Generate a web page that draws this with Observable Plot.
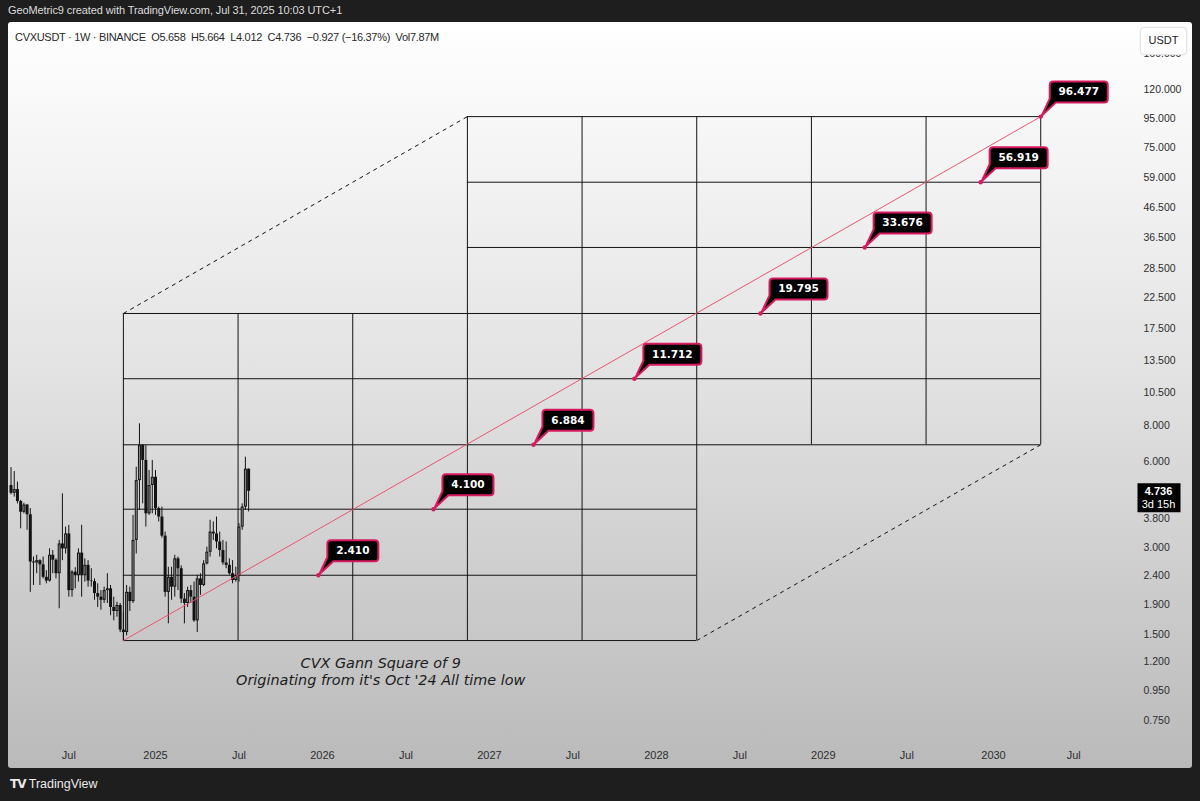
<!DOCTYPE html>
<html><head><meta charset="utf-8">
<script src="https://cdn.jsdelivr.net/npm/d3@7"></script>
<script src="https://cdn.jsdelivr.net/npm/@observablehq/plot@0.6"></script>
<style>
html,body{margin:0;padding:0;background:#1e1e1e;width:1200px;height:801px;overflow:hidden;font-family:"Liberation Sans",Arial,sans-serif;}
#hdr{position:absolute;left:8px;top:4px;color:#dcdcdc;font-size:11px;letter-spacing:-0.1px;white-space:pre;}
#panel{position:absolute;left:8px;top:22px;width:1184px;height:746px;background:linear-gradient(180deg,#ffffff 0%,#e4e4e4 45%,#bababa 100%);border-radius:3px;overflow:hidden;}
#chart{position:absolute;left:0;top:0;}
#legend{position:absolute;left:7px;top:9px;color:#2a2a2a;font-size:11px;letter-spacing:-0.3px;white-space:pre;}
#usdt{position:absolute;left:1132px;top:5px;width:45px;height:26px;line-height:24px;text-align:center;background:#fff;border:1px solid #e3e3e3;border-radius:4px;box-shadow:0 0 2px rgba(0,0,0,0.08);font-size:11px;color:#222;}
#footer{position:absolute;left:10px;top:777px;color:#eaeaea;font-size:12.5px;white-space:pre;}
#footer b{font-family:"DejaVu Sans";font-weight:900;font-size:12px;letter-spacing:-1px;}
</style>
</head><body>
<div id="hdr">GeoMetric9 created with TradingView.com, Jul 31, 2025 10:03 UTC+1</div>
<div id="panel">
  <div id="chart"></div>
  <div id="legend">CVXUSDT · 1W · BINANCE  O5.658  H5.664  L4.012  C4.736  −0.927 (−16.37%)  Vol7.87M</div>
  <div id="usdt">USDT</div>
</div>
<div id="footer"><b>TV</b> TradingView</div>
<script>
// ---- weekly candles ----
const candleDates = ["2024-02-26","2024-03-04","2024-03-11","2024-03-18","2024-03-25","2024-04-01","2024-04-08","2024-04-15","2024-04-22","2024-04-29",
"2024-05-06","2024-05-13","2024-05-20","2024-05-27","2024-06-03","2024-06-10","2024-06-17","2024-06-24","2024-07-01","2024-07-08",
"2024-07-15","2024-07-22","2024-07-29","2024-08-05","2024-08-12","2024-08-19","2024-08-26","2024-09-02","2024-09-09","2024-09-16",
"2024-09-23","2024-09-30","2024-10-07","2024-10-14","2024-10-21","2024-10-28","2024-11-04","2024-11-11","2024-11-18","2024-11-25",
"2024-12-02","2024-12-09","2024-12-16","2024-12-23","2024-12-30","2025-01-06","2025-01-13","2025-01-20","2025-01-27","2025-02-03",
"2025-02-10","2025-02-17","2025-02-24","2025-03-03","2025-03-10","2025-03-17","2025-03-24","2025-03-31","2025-04-07","2025-04-14",
"2025-04-21","2025-04-28","2025-05-05","2025-05-12","2025-05-19","2025-05-26","2025-06-02","2025-06-09","2025-06-16","2025-06-23",
"2025-06-30","2025-07-07","2025-07-14","2025-07-21","2025-07-28"];
const opens  = [4.96,4.66,4.80,4.36,4.00,4.24,3.92,2.68,2.66,2.71, 2.62,2.37,2.30,2.83,2.72,2.44,3.10,2.98,3.36,2.13,
                2.47,2.40,2.88,2.40,2.61,2.30,2.29,2.08,2.02,1.97, 2.13,2.16,1.86,1.80,1.89,1.55,1.52,2.10,1.95,3.19,
                5.16,6.84,6.07,3.95,4.96,5.30,4.12,3.85,3.30,2.10, 2.37,2.19,2.75,2.54,1.99,1.92,2.13,2.02,1.67,2.34,
                2.22,2.64,2.90,3.41,3.36,3.15,2.94,2.66,2.61,2.44, 2.31,2.40,3.55,4.17,5.658];
const highs  = [5.73,5.55,5.10,4.40,4.30,4.26,4.12,2.79,2.83,2.73, 2.79,2.50,2.98,2.94,2.75,3.19,4.64,3.55,3.60,2.50,
                2.56,2.98,3.60,2.75,2.71,2.54,2.34,2.25,2.13,2.19, 2.44,2.22,2.02,1.94,1.92,1.78,2.22,2.19,3.90,5.75,
                8.15,6.90,6.84,5.60,6.07,5.60,4.17,4.17,3.41,2.57, 2.57,2.83,2.79,2.60,2.08,2.19,2.22,2.28,2.41,2.44,
                2.71,3.02,3.75,3.70,3.85,3.41,3.19,3.15,2.75,2.71, 2.57,3.65,4.28,6.23,5.664];
const lows   = [4.60,4.52,4.28,3.50,3.95,3.46,2.10,2.22,2.44,2.22, 2.34,2.25,2.28,2.44,2.34,1.84,2.71,2.86,2.02,2.02,
                2.16,2.28,2.02,2.28,2.19,2.19,1.97,1.86,1.82,1.92, 1.92,1.74,1.67,1.72,1.52,1.425,1.48,1.80,1.92,2.86,
                4.06,4.28,3.55,3.90,3.95,3.90,3.70,3.25,2.02,1.63, 1.97,2.02,2.13,1.92,1.63,1.86,1.92,1.65,1.52,2.05,
                2.20,2.62,2.79,3.19,2.98,2.79,2.61,2.54,2.41,2.25, 2.28,2.28,3.46,4.06,4.012];
const closes = [4.66,4.80,4.36,4.00,4.24,3.92,2.68,2.66,2.71,2.62, 2.37,2.30,2.83,2.72,2.44,3.10,2.98,3.36,2.13,2.47,
                2.40,2.88,2.40,2.61,2.30,2.29,2.08,2.02,1.97,2.13, 2.16,1.86,1.80,1.89,1.55,1.52,2.10,1.95,3.19,5.16,
                6.84,6.07,3.95,4.96,5.30,4.12,3.85,3.30,2.10,2.37, 2.19,2.75,2.54,1.99,1.92,2.13,2.02,1.67,2.34,2.22,
                2.64,2.90,3.41,3.36,3.15,2.94,2.66,2.61,2.44,2.31, 2.40,3.55,4.17,5.658,4.736];

// ---- Gann square of 9 (columns in time, levels in price) ----
const gannColDates = ["2024-10-28","2025-07-05","2026-03-12","2026-11-17","2027-07-25","2028-03-31","2028-12-06","2029-08-13","2030-04-20"];
const gannLevels   = [1.425, 2.410, 4.100, 6.884, 11.712, 19.795, 33.676, 56.919, 96.477];

// ---- callout labels ----
const labelDates  = ["2025-12-27","2026-09-04","2027-04-10","2027-11-16","2028-08-17","2029-04-01","2029-12-10","2030-04-20"];
const labelValues = [2.410, 4.100, 6.884, 11.712, 19.795, 33.676, 56.919, 96.477];

// ---- note ----
const noteLines = ["CVX Gann Square of 9", "Originating from it's Oct '24 All time low"];
const noteDate = "2026-05-12";
const noteValue = 1.116;

// ---- axes ----
const yTicks = [0.75, 0.95, 1.2, 1.5, 1.9, 2.4, 3.0, 3.8, 6.0, 8.0, 10.5, 13.5, 17.5, 22.5, 28.5, 36.5, 46.5, 59, 75, 95, 120, 160];
const xTickDates  = ["2024-07-01","2025-01-06","2025-07-07","2026-01-05","2026-07-06","2027-01-04","2027-07-05","2028-01-03","2028-07-03","2029-01-01","2029-07-02","2030-01-07","2030-07-01"];
const xTickLabels = ["Jul","2025","Jul","2026","Jul","2027","Jul","2028","Jul","2029","Jul","2030","Jul"];
const lastPrice = 4.736;
const countdown = "3d 15h";

// ---- build tables ----
const candles = candleDates.map((d, i) => ({date: new Date(d), open: opens[i], high: highs[i], low: lows[i], close: closes[i]}));
const ups = candles.filter(c => c.close >= c.open);
const cols = gannColDates.map(d => new Date(d));
const squares = [{c0: 0, c1: 5, l0: 0, l1: 5}, {c0: 3, c1: 8, l0: 3, l1: 8}];
const hSegs = gannLevels.map((v, j) => {
  const s = squares.filter(q => q.l0 <= j && j <= q.l1);
  return {y: v, x1: cols[Math.min(...s.map(q => q.c0))], x2: cols[Math.max(...s.map(q => q.c1))]};
});
const vSegs = cols.map((d, k) => {
  const s = squares.filter(q => q.c0 <= k && k <= q.c1);
  return {x: d, y1: gannLevels[Math.min(...s.map(q => q.l0))], y2: gannLevels[Math.max(...s.map(q => q.l1))]};
});
const dashed = [
  {x1: cols[0], y1: gannLevels[5], x2: cols[3], y2: gannLevels[8]},
  {x1: cols[5], y1: gannLevels[0], x2: cols[8], y2: gannLevels[3]}
];
const diag = [{x1: cols[0], y1: gannLevels[0], x2: cols[8], y2: gannLevels[8]}];
const labels = labelDates.map((d, i) => ({date: new Date(d), value: labelValues[i], text: d3.format(".3f")(labelValues[i])}));
const shortL = labels.filter(l => l.text.length <= 5);
const longL = labels.filter(l => l.text.length > 5);
const xLabelMap = new Map(xTickDates.map((d, i) => [+new Date(d), xTickLabels[i]]));

const BX = 9, BY = -14, BH = 21;
function callout(w) {
  const r = 3.5;
  return {draw(ctx) {
    ctx.moveTo(BX + r, BY - BH);
    ctx.lineTo(BX + w - r, BY - BH);
    ctx.quadraticCurveTo(BX + w, BY - BH, BX + w, BY - BH + r);
    ctx.lineTo(BX + w, BY - r);
    ctx.quadraticCurveTo(BX + w, BY, BX + w - r, BY);
    ctx.lineTo(BX + 6, BY);
    ctx.lineTo(1, -1);
    ctx.lineTo(BX, BY - 4);
    ctx.lineTo(BX, BY - BH + r);
    ctx.quadraticCurveTo(BX, BY - BH, BX + r, BY - BH);
    ctx.closePath();
  }};
}
const priceBox = {draw(ctx) { ctx.rect(2, -8, 43, 29); }};
const PINK = "#d81b60";

const labelMarks = (set, w) => [
  Plot.dot(set, {x: "date", y: "value", symbol: callout(w), fill: "#000", stroke: PINK, strokeWidth: 2, strokeLinejoin: "round"}),
  Plot.text(set, {x: "date", y: "value", text: "text", dx: BX + w / 2, dy: BY - BH / 2, fill: "#fff", fontWeight: "bold", fontSize: 10.5, fontFamily: "DejaVu Sans"})
];

const chart = Plot.plot({
  width: 1184, height: 746,
  marginLeft: 0, marginRight: 57, marginTop: 0, marginBottom: 23,
  style: {background: "transparent", fontFamily: "Liberation Sans, Arial, sans-serif", fontSize: "11px", color: "#2e2e2e", overflow: "visible"},
  x: {type: "utc", domain: [new Date("2024-02-20T12:00Z"), new Date("2030-11-12T14:00Z")]},
  y: {type: "log", domain: [0.6126, 205.7]},
  marks: [
    Plot.link(dashed, {x1: "x1", y1: "y1", x2: "x2", y2: "y2", stroke: "#111", strokeWidth: 1, strokeDasharray: "4,4"}),
    Plot.ruleY(hSegs, {y: "y", x1: "x1", x2: "x2", stroke: "#141414", strokeWidth: 1}),
    Plot.ruleX(vSegs, {x: "x", y1: "y1", y2: "y2", stroke: "#141414", strokeWidth: 1}),
    Plot.ruleX(candles, {x: "date", y1: "low", y2: "high", stroke: "#141414", strokeWidth: 1}),
    Plot.ruleX(candles, {x: "date", y1: "open", y2: "close", stroke: "#121212", strokeWidth: 3}),
    Plot.ruleX(ups, {x: "date", y1: "close", y2: "open", stroke: "#8e8e8e", strokeWidth: 1, insetTop: 1, insetBottom: 1}),
    Plot.link(diag, {x1: "x1", y1: "y1", x2: "x2", y2: "y2", stroke: "#ee5370", strokeWidth: 1}),
    ...labelMarks(shortL, 51),
    ...labelMarks(longL, 58),
    Plot.dot(labels, {x: "date", y: "value", r: 2.2, fill: PINK}),
    Plot.text([noteLines.join("\n")], {x: () => new Date(noteDate), y: () => noteValue, text: d => d, fontStyle: "italic", fontFamily: "DejaVu Sans", fontSize: 14.4, lineHeight: 1.18, fill: "#1c1c1c"}),
    Plot.axisX(xTickDates.map(d => new Date(d)), {anchor: "bottom", tickSize: 0, tickPadding: 6, tickFormat: d => xLabelMap.get(+d), fontSize: 11, fill: "#2e2e2e"}),
    Plot.axisY(yTicks, {anchor: "right", tickSize: 0, tickPadding: 8, tickFormat: d3.format(".3f"), fontSize: 10.5, fill: "#2e2e2e"}),
    Plot.dot([lastPrice], {y: d => d, frameAnchor: "right", symbol: priceBox, fill: "#000", stroke: "none"}),
    Plot.text([lastPrice], {y: d => d, frameAnchor: "right", textAnchor: "middle", text: d => d3.format(".3f")(d), dx: 23, dy: 0, fill: "#fff", fontWeight: "bold", fontSize: 11}),
    Plot.text([countdown], {y: () => lastPrice, frameAnchor: "right", textAnchor: "middle", text: d => d, dx: 23, dy: 13, fill: "#fff", fontSize: 11})
  ]
});
document.getElementById("chart").appendChild(chart);
</script>
</body></html>
